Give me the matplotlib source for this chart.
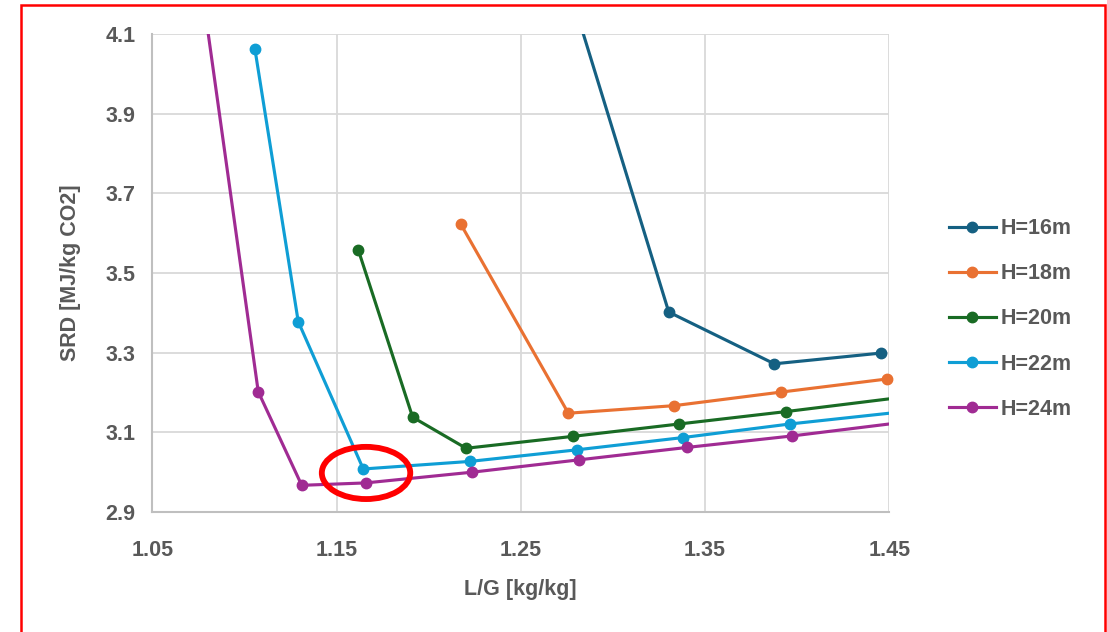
import matplotlib
matplotlib.use("Agg")
import matplotlib.pyplot as plt
from matplotlib.patches import Ellipse, Rectangle

# ---- data ----
labels = ["H=16m", "H=18m", "H=20m", "H=22m", "H=24m"]
colors = ["#156082", "#E97132", "#196B24", "#0F9ED5", "#A02B93"]

x16 = [1.272, 1.3303, 1.3876, 1.4455]
y16 = [4.28, 3.402, 3.272, 3.299]

x18 = [1.2175, 1.2758, 1.3333, 1.3912, 1.4489]
y18 = [3.622, 3.148, 3.167, 3.201, 3.234]

x20 = [1.1618, 1.1913, 1.2203, 1.2785, 1.336, 1.3938, 1.4516]
y20 = [3.558, 3.138, 3.060, 3.090, 3.121, 3.152, 3.185]

x22 = [1.1057, 1.1292, 1.1645, 1.2224, 1.2803, 1.3382, 1.3961, 1.454]
y22 = [4.062, 3.378, 3.008, 3.027, 3.056, 3.087, 3.121, 3.150]

x24 = [1.075, 1.1075, 1.1311, 1.1658, 1.2237, 1.2817, 1.340, 1.3974, 1.4553]
y24 = [4.278, 3.202, 2.967, 2.973, 3.000, 3.031, 3.062, 3.091, 3.124]

xs = [x16, x18, x20, x22, x24]
ys = [y16, y18, y20, y22, y24]

xticks = [1.05, 1.15, 1.25, 1.35, 1.45]
yticks = [2.9, 3.1, 3.3, 3.5, 3.7, 3.9, 4.1]

XMIN, XMAX, YMIN, YMAX = 1.05, 1.45, 2.9, 4.1

plt.rcParams['font.family'] = ['Liberation Sans', 'DejaVu Sans']
txt = "#595959"

fig = plt.figure(figsize=(11.07, 6.32), dpi=100)
ax = fig.add_axes([152.3/1107, 1-512/632, (889.3-152.3)/1107, (512-34)/632])

for x, y, c, l in zip(xs, ys, colors, labels):
    # line clipped to the plot area
    ax.plot(x, y, color=c, lw=2.25, zorder=3)
    # markers for in-range points, not clipped (Excel style)
    mx = [a for a, b in zip(x, y) if XMIN <= a <= XMAX and YMIN <= b <= YMAX]
    my = [b for a, b in zip(x, y) if XMIN <= a <= XMAX and YMIN <= b <= YMAX]
    ax.plot(mx, my, ls='none', marker='o', ms=7.5, color=c, zorder=4, clip_on=False)
    ax.plot([], [], color=c, lw=2.25, marker='o', ms=7.5, label=l)

ax.set_xlim(XMIN, XMAX)
ax.set_ylim(YMIN, YMAX)
ax.set_xticks(xticks)
ax.set_yticks(yticks)
ax.set_xticklabels([f"{v:.2f}" for v in xticks])
ax.set_yticklabels([f"{v:.1f}" for v in yticks])
ax.grid(True, color="#D9D9D9", lw=1.3, zorder=0)
ax.set_axisbelow(True)
for s in ["top", "right"]:
    ax.spines[s].set_visible(False)
for s in ["left", "bottom"]:
    ax.spines[s].set_color("#BFBFBF")
    ax.spines[s].set_linewidth(1.5)
ax.tick_params(length=0, labelsize=15.5, labelcolor=txt, pad=12)
for t in ax.get_xticklabels() + ax.get_yticklabels():
    t.set_fontweight('bold')
ax.tick_params(axis='x', pad=20)

ax.set_xlabel("L/G [kg/kg]", fontsize=15.5, fontweight='bold', color=txt, labelpad=13)
ax.set_ylabel("SRD [MJ/kg CO2]", fontsize=15.5, fontweight='bold', color=txt, labelpad=18)

# red ellipse highlight
ax.add_patch(Ellipse((1.166, 2.998), 0.048, 0.131, fill=False, ec="red", lw=4.2, zorder=5, clip_on=False))

leg = fig.legend(loc="center left", bbox_to_anchor=(938/1107, 1-319/632), frameon=False,
                 fontsize=15.5, handlelength=2.2, handletextpad=0.2, labelspacing=1.12,
                 borderpad=0, labelcolor=txt)
for t in leg.get_texts():
    t.set_fontweight('bold')

# red border
fig.patches.append(Rectangle((20.5/1107, -0.05), (1105 - 20.5)/1107, 1.05 - 4.5/632,
                             transform=fig.transFigure, fill=False, ec="red", lw=1.8))

fig.savefig("out.png", dpi=100)
